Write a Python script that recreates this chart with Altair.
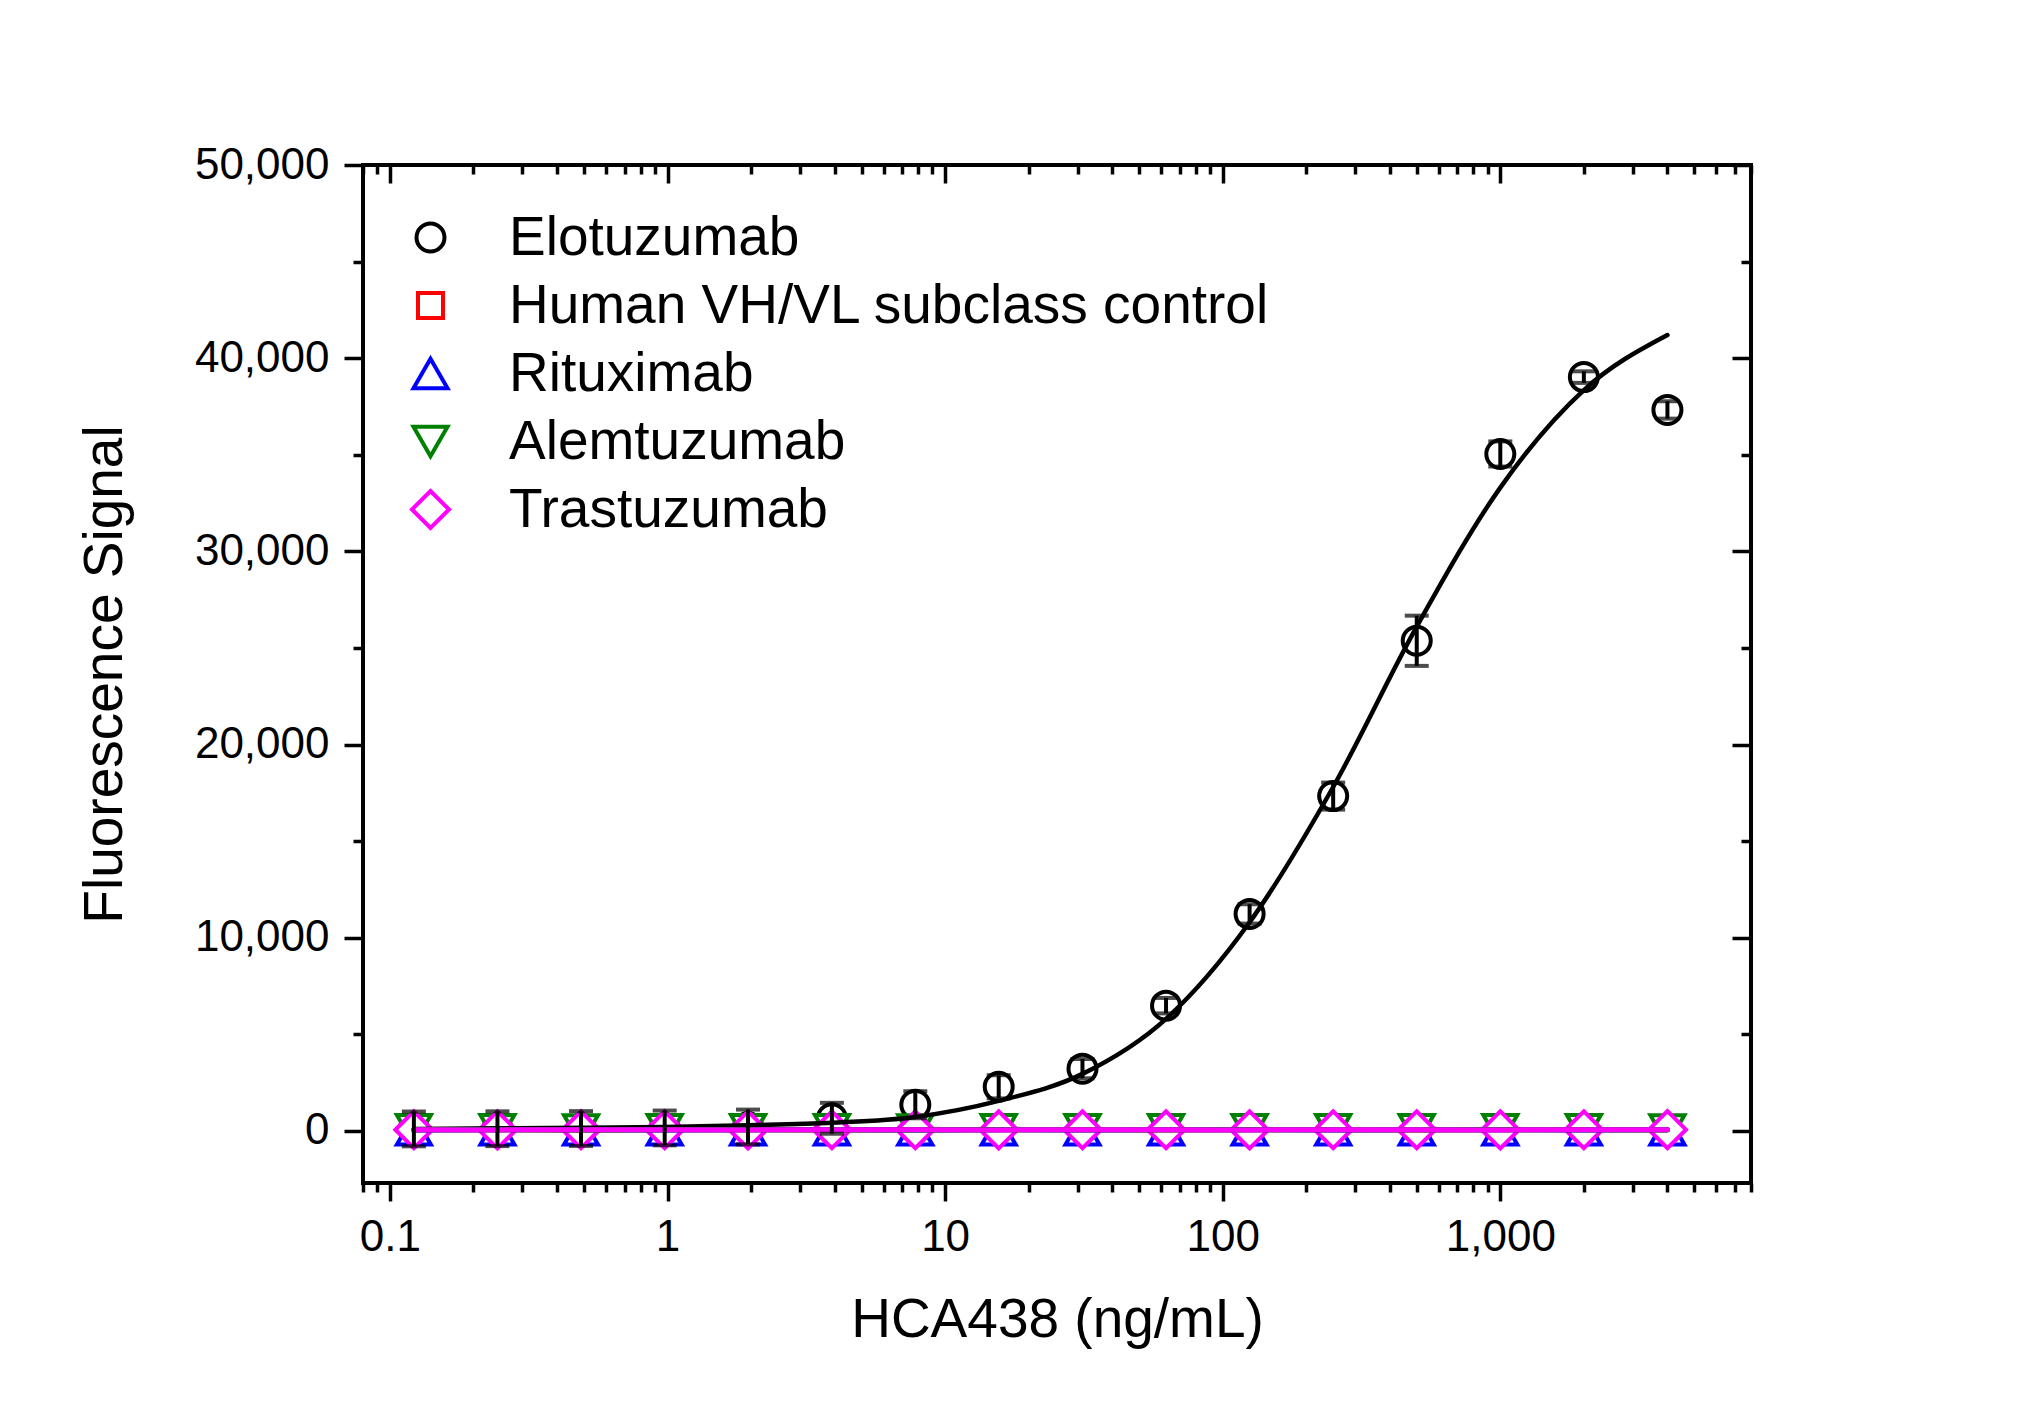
import altair as alt
import pandas as pd

# ---- data ----
conc = [0.122, 0.244, 0.488, 0.977, 1.95, 3.91, 7.81, 15.6, 31.25, 62.5, 125, 250, 500, 1000, 2000, 4000]

series_names = ["Elotuzumab", "Human VH/VL subclass control", "Rituximab", "Alemtuzumab", "Trastuzumab"]
series_colors = ["#000000", "#FF0000", "#0000FF", "#008000", "#FF00FF"]
series_shapes = ["circle", "square", "triangle-up", "triangle-down", "diamond"]
series_sizes = [784, 625, 1156, 1156, 1369]

elo_y = [100, 110, 120, 150, 200, 650, 1350, 2280, 3220, 6480, 11230, 17330, 25370, 35040, 39020, 37320]
elo_sd = [900, 900, 900, 900, 900, 800, 700, 600, 500, 400, 500, 700, 1300, 650, 300, 450]

human_y = [60, 55, 50, 60, 55, 50, 60, 55, 60, 50, 55, 60, 50, 55, 60, 55]
ritux_y = [50, 55, 60, 50, 55, 60, 50, 55, 50, 60, 55, 50, 60, 55, 50, 55]
alem_y = [55, 60, 50, 55, 60, 55, 50, 60, 55, 55, 60, 55, 55, 60, 55, 50]
trast_y = [55, 50, 55, 55, 50, 55, 55, 50, 55, 55, 50, 55, 55, 50, 55, 60]

# fitted logistic curve for Elotuzumab at each concentration
curve_x = [0.122, 0.244, 0.488, 0.977, 1.95, 3.91, 7.81, 15.6, 31.25, 62.5, 125, 250, 500, 1000, 2000, 4000]
curve_y = [100, 130, 155, 200, 290, 420, 720, 1550, 2950, 5800, 10800, 17800, 26100, 33300, 38350, 41200]

x_major = [0.1, 1, 10, 100, 1000]
x_minor = [0.08, 0.09, 0.2, 0.3, 0.4, 0.5, 0.6, 0.7, 0.8, 0.9,
           2, 3, 4, 5, 6, 7, 8, 9, 20, 30, 40, 50, 60, 70, 80, 90,
           200, 300, 400, 500, 600, 700, 800, 900, 2000, 3000, 4000, 5000, 6000, 7000, 8000]
y_major = [0, 10000, 20000, 30000, 40000, 50000]
y_minor = [5000, 15000, 25000, 35000, 45000]

# ---- tables ----
all_y = [elo_y, human_y, ritux_y, alem_y, trast_y]
rows = []
for k, (name, ys) in enumerate(zip(series_names, all_y)):
    for c, v in zip(conc, ys):
        rows.append({"conc": c, "signal": v, "series": name, "order": k})
pts = pd.DataFrame(rows)

err = pd.DataFrame({"conc": conc,
                    "lo": [v - s for v, s in zip(elo_y, elo_sd)],
                    "hi": [v + s for v, s in zip(elo_y, elo_sd)]})
curve = pd.DataFrame({"conc": curve_x, "signal": curve_y})

FONT = "Liberation Sans"
xscale = alt.Scale(type="log", domain=[0.08, 8000], nice=False)
yscale = alt.Scale(domain=[-2700, 50000], nice=False, zero=False)

TW = 3.5

def xax(orient, values, size, labels=False, offset=0, title=None):
    kw = dict(orient=orient, values=values, tickSize=size, tickWidth=TW, tickColor="black",
              domain=False, grid=False, labels=labels, offset=offset, title=title)
    if labels:
        kw.update(format=",", labelFontSize=44, labelFont=FONT, labelColor="black",
                  labelPadding=14, labelFlush=False, labelOverlap=False)
    if title:
        kw.update(titleFontSize=55, titleFont=FONT, titleFontWeight="normal", titleColor="black",
                  titleBaseline="alphabetic", titleY=153)
    return alt.Axis(**kw)

def yax(orient, values, size, labels=False, offset=0, title=None):
    kw = dict(orient=orient, values=values, tickSize=size, tickWidth=TW, tickColor="black",
              domain=False, grid=False, labels=labels, offset=offset, title=title)
    if labels:
        kw.update(format=",.0f", labelFontSize=44, labelFont=FONT, labelColor="black",
                  labelPadding=15, labelFlush=False, labelOverlap=False)
    if title:
        kw.update(titleFontSize=55, titleFont=FONT, titleFontWeight="normal", titleColor="black",
                  titleBaseline="alphabetic", titleX=-242, titleAngle=270)
    return alt.Axis(**kw)

# markers (circles first, diamonds last)
points = alt.Chart(pts).mark_point(filled=False, opacity=1, strokeWidth=4).encode(
    x=alt.X("conc:Q", scale=xscale,
            axis=xax("bottom", x_major, 18, labels=True, title="HCA438 (ng/mL)")),
    y=alt.Y("signal:Q", scale=yscale,
            axis=yax("left", y_major, 19, labels=True, title="Fluorescence Signal")),
    stroke=alt.Stroke("series:N", scale=alt.Scale(domain=series_names, range=series_colors),
                      legend=alt.Legend(title=None)),
    shape=alt.Shape("series:N", scale=alt.Scale(domain=series_names, range=series_shapes),
                    legend=alt.Legend(title=None)),
    size=alt.Size("series:N", scale=alt.Scale(type="ordinal", domain=series_names, range=series_sizes),
                  legend=alt.Legend(title=None)),
    fill=alt.value("white"),
    order=alt.Order("order:Q"),
)

fit = alt.Chart(curve).mark_line(color="black", strokeWidth=4.5, interpolate="monotone",
                                 strokeCap="round").encode(
    x=alt.X("conc:Q", scale=xscale, axis=xax("bottom", x_minor, 9)),
    y=alt.Y("signal:Q", scale=yscale, axis=yax("left", y_minor, 10)),
)

def ctrl_line(name, color, xa, ya):
    return alt.Chart(pts).transform_filter(alt.datum.series == name).mark_line(
        color=color, strokeWidth=5, strokeCap="round").encode(
        x=alt.X("conc:Q", scale=xscale, axis=xa),
        y=alt.Y("signal:Q", scale=yscale, axis=ya),
    )

l_h = ctrl_line(series_names[1], series_colors[1],
                xax("top", x_major, 18, offset=-18), yax("right", y_major, 19, offset=-19))
l_r = ctrl_line(series_names[2], series_colors[2],
                xax("top", x_minor, 9, offset=-9), yax("right", y_minor, 10, offset=-10))
l_a = ctrl_line(series_names[3], series_colors[3], None, None)
l_t = ctrl_line(series_names[4], series_colors[4], None, None)

bars = alt.Chart(err).mark_rule(color="black", strokeWidth=4).encode(
    x=alt.X("conc:Q", scale=xscale, axis=None),
    y=alt.Y("lo:Q", scale=yscale, axis=None),
    y2="hi:Q",
)
caps_lo = alt.Chart(err).mark_tick(color="black", orient="horizontal", size=24, thickness=4).encode(
    x=alt.X("conc:Q", scale=xscale, axis=None),
    y=alt.Y("lo:Q", scale=yscale, axis=None),
)
caps_hi = alt.Chart(err).mark_tick(color="black", orient="horizontal", size=24, thickness=4).encode(
    x=alt.X("conc:Q", scale=xscale, axis=None),
    y=alt.Y("hi:Q", scale=yscale, axis=None),
)

chart = alt.layer(points, fit, l_h, l_r, l_a, l_t, bars, caps_lo, caps_hi).resolve_axis(
    x="independent", y="independent"
).properties(
    width=1388, height=1018,
    autosize=alt.AutoSizeParams(type="none"),
    padding={"left": 363, "top": 165, "right": 283, "bottom": 234},
    background="white",
).configure_view(
    stroke="black", strokeWidth=4
).configure_legend(
    orient="none", legendX=40, legendY=45, padding=0, rowPadding=12,
    labelFontSize=55, labelFont=FONT, labelColor="black", labelLimit=2000, labelOffset=51,
    symbolStrokeWidth=4, symbolFillColor="white", symbolOpacity=1,
)

chart.save("out.html", embed_options={"renderer": "svg", "actions": False})
